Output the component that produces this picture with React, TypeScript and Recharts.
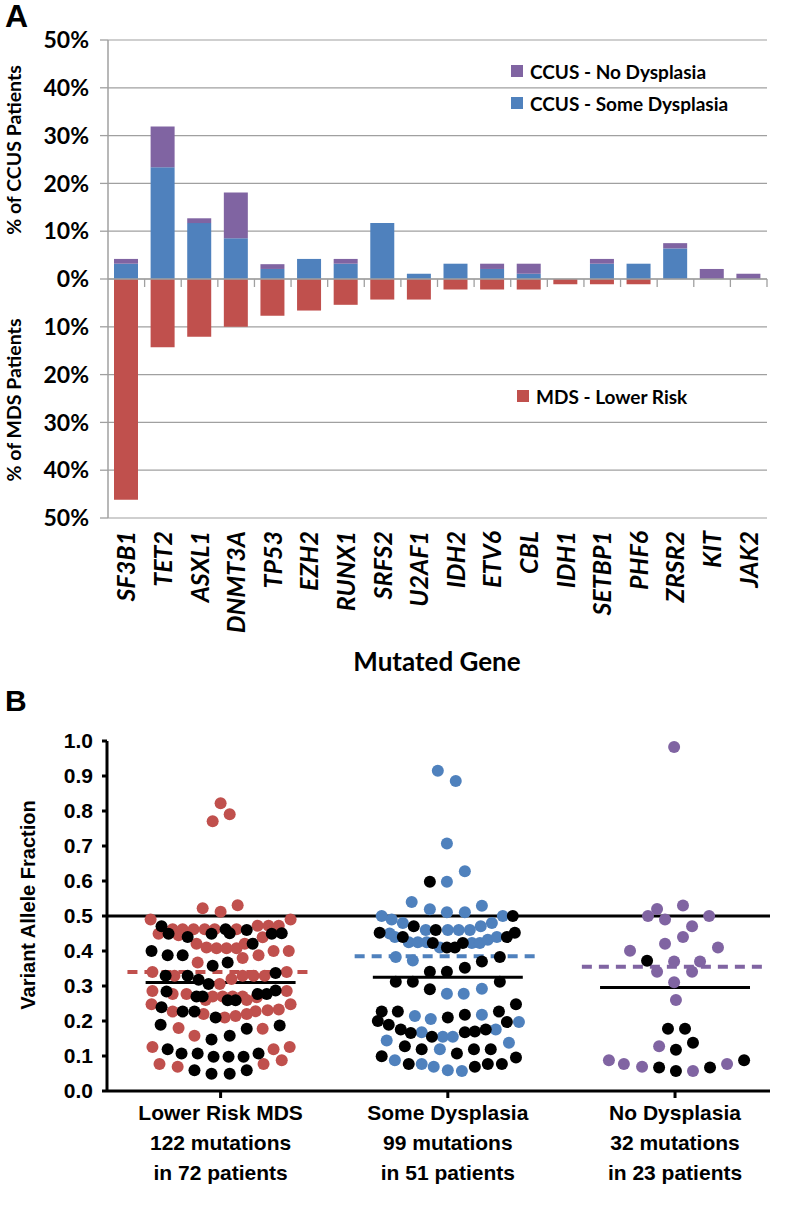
import React from 'react';
import {
  BarChart, Bar, XAxis, YAxis, CartesianGrid, ReferenceLine,
  ScatterChart, Scatter,
} from 'recharts';

// ---------- Panel A data ----------
const genes = ['SF3B1', 'TET2', 'ASXL1', 'DNMT3A', 'TP53', 'EZH2', 'RUNX1', 'SRFS2', 'U2AF1',
  'IDH2', 'ETV6', 'CBL', 'IDH1', 'SETBP1', 'PHF6', 'ZRSR2', 'KIT', 'JAK2'];
const ccusSomeDysplasia = [3.2, 23.4, 11.7, 8.5, 2.1, 4.2, 3.2, 11.7, 1.1, 3.2, 2.1, 1.1, 0, 3.2, 3.2, 6.4, 0, 0];
const ccusNoDysplasia = [1.0, 8.5, 1.0, 9.6, 1.0, 0, 1.0, 0, 0, 0, 1.1, 2.1, 0, 1.0, 0, 1.1, 2.1, 1.1];
const mdsLowerRisk = [46.2, 14.3, 12.1, 10.0, 7.7, 6.6, 5.4, 4.3, 4.3, 2.2, 2.2, 2.2, 1.1, 1.1, 1.1, 0, 0, 0];
const percentTicks = [-50, -40, -30, -20, -10, 0, 10, 20, 30, 40, 50];

// ---------- Panel B data ----------
const groupLabels = [
  ['Lower Risk MDS', '122 mutations', 'in 72 patients'],
  ['Some Dysplasia', '99 mutations', 'in 51 patients'],
  ['No Dysplasia', '32 mutations', 'in 23 patients'],
];
const vafTicks = [0, 0.1, 0.2, 0.3, 0.4, 0.5, 0.6, 0.7, 0.8, 0.9, 1.0];
const dashedMeans = [0.34, 0.385, 0.355];
const solidMeans = [0.31, 0.325, 0.296];

// [horizontal offset within group, VAF]
const mdsColored = [
  [0, 0.822], [0.04, 0.791], [-0.035, 0.771], [-0.079, 0.522], [0, 0.512], [0.075, 0.531],
  [-0.308, 0.49], [0.308, 0.49], [-0.211, 0.462], [-0.167, 0.462], [-0.119, 0.462], [-0.07, 0.462],
  [-0.026, 0.462], [0.07, 0.462], [0.163, 0.472], [0.211, 0.472], [0.256, 0.472], [-0.273, 0.449],
  [-0.185, 0.445], [0.185, 0.439], [-0.106, 0.421], [-0.062, 0.41], [-0.018, 0.408], [0.026, 0.408],
  [0.07, 0.408], [0.106, 0.421], [0.167, 0.388], [0.233, 0.4], [0.3, 0.4], [-0.101, 0.367],
  [0.097, 0.38], [-0.3, 0.34], [-0.203, 0.329], [-0.004, 0.306], [0.048, 0.32], [0.097, 0.329],
  [0.145, 0.329], [0.194, 0.329], [0.291, 0.34], [-0.3, 0.286], [-0.211, 0.277], [-0.15, 0.277],
  [-0.035, 0.27], [0.009, 0.27], [0.053, 0.27], [0.097, 0.27], [0.291, 0.286], [-0.066, 0.26],
  [0.115, 0.26], [0.159, 0.268], [-0.304, 0.248], [0.308, 0.248], [0.256, 0.233], [0.207, 0.231],
  [0.154, 0.228], [-0.211, 0.227], [-0.075, 0.22], [0.018, 0.21], [0.066, 0.214], [0.115, 0.22],
  [-0.185, 0.18], [-0.115, 0.158], [0.185, 0.178], [-0.3, 0.126], [0.233, 0.119], [0.304, 0.126],
  [-0.269, 0.077], [-0.189, 0.069], [0.189, 0.077], [0.269, 0.088],
];
const mdsBlack = [
  [-0.26, 0.471], [0.022, 0.462], [0.04, 0.451], [0.115, 0.46], [-0.229, 0.449], [-0.145, 0.44],
  [-0.04, 0.449], [0.225, 0.449], [0.269, 0.451], [0.141, 0.421], [-0.304, 0.4], [-0.233, 0.388],
  [-0.167, 0.388], [-0.035, 0.358], [0.031, 0.367], [-0.242, 0.329], [-0.145, 0.329], [-0.097, 0.318],
  [-0.053, 0.306], [0.242, 0.337], [-0.238, 0.284], [-0.106, 0.27], [-0.079, 0.27], [0.163, 0.277],
  [0.203, 0.277], [0.242, 0.287], [0.031, 0.259], [0.066, 0.259], [-0.26, 0.239], [-0.167, 0.227],
  [-0.115, 0.227], [-0.022, 0.21], [-0.264, 0.189], [-0.04, 0.147], [0.04, 0.158], [0.115, 0.178],
  [0.26, 0.187], [-0.233, 0.119], [-0.172, 0.107], [-0.101, 0.107], [-0.031, 0.098], [0.035, 0.098],
  [0.101, 0.098], [0.167, 0.107], [-0.115, 0.059], [-0.04, 0.049], [0.04, 0.049], [0.115, 0.059],
];
const someColored = [
  [-0.044, 0.915], [0.035, 0.886], [-0.004, 0.707], [0.075, 0.628], [-0.004, 0.598], [-0.159, 0.54],
  [-0.079, 0.519], [-0.004, 0.511], [0.075, 0.511], [0.15, 0.529], [-0.291, 0.5], [-0.247, 0.49],
  [-0.198, 0.48], [0.242, 0.5], [0.194, 0.48], [-0.097, 0.46], [0, 0.46], [0.048, 0.46],
  [0.097, 0.46], [0.145, 0.471], [-0.256, 0.45], [-0.233, 0.44], [-0.172, 0.425], [-0.132, 0.425],
  [-0.093, 0.425], [-0.035, 0.41], [0.106, 0.423], [0.141, 0.423], [0.176, 0.432], [0.216, 0.44],
  [-0.229, 0.383], [-0.154, 0.373], [-0.004, 0.278], [0.07, 0.278], [0.15, 0.292], [-0.145, 0.214],
  [-0.075, 0.206], [0.15, 0.218], [-0.115, 0.168], [-0.022, 0.155], [0.022, 0.155], [0.211, 0.176],
  [0.313, 0.197], [-0.269, 0.144], [0.269, 0.138], [-0.035, 0.119], [-0.233, 0.088], [-0.115, 0.077],
  [-0.062, 0.069], [0, 0.059], [0.062, 0.057],
];
const someBlack = [
  [-0.079, 0.598], [0.286, 0.5], [-0.15, 0.471], [-0.053, 0.46], [-0.3, 0.452], [-0.198, 0.44],
  [-0.066, 0.423], [-0.004, 0.41], [0.031, 0.41], [0.066, 0.423], [0.26, 0.44], [0.295, 0.452],
  [0.15, 0.37], [0.229, 0.383], [-0.079, 0.341], [-0.004, 0.341], [0.075, 0.352], [-0.229, 0.312],
  [-0.154, 0.312], [0.229, 0.312], [-0.079, 0.291], [-0.291, 0.227], [-0.22, 0.227], [0, 0.21],
  [0.075, 0.218], [0.225, 0.227], [0.3, 0.248], [-0.308, 0.2], [-0.26, 0.189], [-0.207, 0.176],
  [-0.163, 0.166], [-0.07, 0.155], [0.075, 0.168], [0.119, 0.17], [0.167, 0.176], [0.26, 0.197],
  [-0.189, 0.128], [-0.115, 0.119], [0.04, 0.107], [0.115, 0.119], [0.189, 0.119], [-0.291, 0.099],
  [-0.172, 0.077], [0.119, 0.069], [0.176, 0.077], [0.238, 0.077], [0.3, 0.096],
];
const noneColored = [
  [-0.004, 0.983], [-0.079, 0.52], [0.035, 0.53], [-0.119, 0.5], [-0.044, 0.49], [0.15, 0.5],
  [0.075, 0.471], [0.035, 0.44], [-0.044, 0.421], [-0.198, 0.401], [0.189, 0.41], [-0.004, 0.37],
  [0.11, 0.37], [-0.079, 0.341], [0.075, 0.341], [-0.004, 0.311], [0.004, 0.26], [-0.07, 0.128],
  [-0.291, 0.088], [-0.225, 0.077], [-0.145, 0.069], [0.079, 0.057], [0.229, 0.077],
];
const noneBlack = [
  [-0.123, 0.372], [-0.031, 0.178], [0.044, 0.178], [0.079, 0.138], [0.004, 0.118], [-0.07, 0.067],
  [0.004, 0.057], [0.154, 0.067], [0.304, 0.088],
];

const RED = '#c0504d';
const BLUE = '#4f81bd';
const PURPLE = '#8064a2';
const GRID = '#a0a0a0';
const CAL = 'Lato, "Open Sans", sans-serif';
const ARIAL = '"Liberation Sans", Arial, sans-serif';

const barData = genes.map((g, i) => ({
  gene: g,
  some: ccusSomeDysplasia[i],
  none: ccusNoDysplasia[i],
  mds: -mdsLowerRisk[i],
}));

const toPoints = (arr: number[][], group: number) => arr.map(([dx, v]) => ({ x: group + dx, y: v }));

const GeneTick = (props: any) => {
  const { x, y, payload } = props;
  return (
    <g transform={`translate(${x},${y}) rotate(-90)`}>
      <text x={0} y={0} dy="0.36em" textAnchor="end" fontFamily={CAL} fontWeight={700}
        fontStyle="italic" fontSize={25} fill="#000">{payload.value}</text>
    </g>
  );
};

const GroupTick = (props: any) => {
  const { x, y, payload } = props;
  const lines = groupLabels[Math.round(payload.value) - 1] || [];
  return (
    <g>
      {lines.map((l, i) => (
        <text key={i} x={x} y={y + 20 + i * 30} textAnchor="middle" fontFamily={ARIAL}
          fontWeight={700} fontSize={21} fill="#000">{l}</text>
      ))}
    </g>
  );
};

const ZeroAxis = (props: any) => {
  const { x1, y1, x2, y2 } = props;
  const n = genes.length;
  const step = (x2 - x1) / n;
  const ticks = [];
  for (let i = 1; i <= n; i++) {
    const tx = x1 + step * i;
    ticks.push(<line key={i} x1={tx} x2={tx} y1={y1} y2={y1 + 8} stroke={GRID} strokeWidth={1.3} />);
  }
  return (
    <g>
      <line x1={x1} y1={y1} x2={x2} y2={y2} stroke={GRID} strokeWidth={1.5} />
      {ticks}
    </g>
  );
};

const dot = (color: string) => (p: any) => <circle cx={p.cx} cy={p.cy} r={6} fill={color} />;

const abs: React.CSSProperties = { position: 'absolute', whiteSpace: 'nowrap', color: '#000' };

const LegendItem = ({ color, label, left, top }: any) => (
  <div style={{ ...abs, left, top, display: 'flex', alignItems: 'center', height: 22,
    fontFamily: CAL, fontWeight: 700, fontSize: 19 }}>
    <div style={{ width: 12, height: 12, background: color, marginRight: 7 }} />
    <span>{label}</span>
  </div>
);

export default function App() {
  return (
    <div style={{ position: 'absolute', left: 0, top: 0, width: 791, height: 1229, background: '#fff' }}>
      {/* Panel A */}
      <div style={{ position: 'absolute', left: 0, top: 0 }}>
        <BarChart width={791} height={640} data={barData} stackOffset="sign"
          margin={{ top: 40, right: 24, bottom: 0, left: 0 }} barSize={24}>
          <CartesianGrid vertical={false} stroke={GRID} strokeWidth={1.2} />
          <XAxis dataKey="gene" interval={0} height={122} axisLine={false} tickLine={false}
            tickSize={0} tickMargin={13} tick={<GeneTick />} />
          <YAxis type="number" domain={[-50, 50]} ticks={percentTicks} width={108}
            tickFormatter={(v: number) => `${Math.abs(v)}%`} tickSize={8} tickMargin={11}
            axisLine={{ stroke: GRID, strokeWidth: 1.5 }} tickLine={{ stroke: GRID, strokeWidth: 1.3 }}
            tick={{ fill: '#000', fontFamily: CAL, fontWeight: 700, fontSize: 23 }} />
          <Bar dataKey="some" stackId="s" fill={BLUE} isAnimationActive={false} />
          <Bar dataKey="none" stackId="s" fill={PURPLE} isAnimationActive={false} />
          <Bar dataKey="mds" stackId="s" fill={RED} isAnimationActive={false} />
          <ReferenceLine y={0} stroke={GRID} shape={<ZeroAxis />} />
        </BarChart>
      </div>
      <div style={{ ...abs, left: 5, top: 0, lineHeight: 1, fontFamily: ARIAL, fontWeight: 700, fontSize: 32 }}>A</div>
      <div style={{ ...abs, left: 13, top: 150, transform: 'translate(-50%,-50%) rotate(-90deg)',
        fontFamily: CAL, fontWeight: 700, fontSize: 19.5 }}>% of CCUS Patients</div>
      <div style={{ ...abs, left: 13, top: 400, transform: 'translate(-50%,-50%) rotate(-90deg)',
        fontFamily: CAL, fontWeight: 700, fontSize: 19.5 }}>% of MDS Patients</div>
      <LegendItem color={PURPLE} label="CCUS - No Dysplasia" left={511} top={60} />
      <LegendItem color={BLUE} label="CCUS - Some Dysplasia" left={511} top={92} />
      <LegendItem color={RED} label="MDS - Lower Risk" left={517} top={385} />
      <div style={{ ...abs, left: 437, top: 661, transform: 'translate(-50%,-50%)',
        fontFamily: CAL, fontWeight: 700, fontSize: 26 }}>Mutated Gene</div>

      {/* Panel B */}
      <div style={{ position: 'absolute', left: 0, top: 700 }}>
        <ScatterChart width={791} height={529} margin={{ top: 41, right: 21, bottom: 0, left: 0 }}>
          <XAxis type="number" dataKey="x" domain={[0.5, 3.418]} ticks={[1, 2, 3]} allowDataOverflow
            height={138} tickSize={7} tickMargin={2} axisLine={{ stroke: '#000', strokeWidth: 3 }}
            tickLine={{ stroke: '#000', strokeWidth: 3 }} tick={<GroupTick />} />
          <YAxis type="number" dataKey="y" domain={[0, 1]} ticks={vafTicks} width={107}
            tickFormatter={(v: number) => v.toFixed(1)} tickSize={5} tickMargin={9}
            axisLine={{ stroke: '#000', strokeWidth: 3 }} tickLine={{ stroke: '#000', strokeWidth: 3 }}
            tick={{ fill: '#000', fontFamily: ARIAL, fontWeight: 700, fontSize: 21 }} />
          <Scatter data={toPoints(mdsColored, 1)} shape={dot(RED)} isAnimationActive={false} />
          <Scatter data={toPoints(someColored, 2)} shape={dot(BLUE)} isAnimationActive={false} />
          <Scatter data={toPoints(noneColored, 3)} shape={dot(PURPLE)} isAnimationActive={false} />
          <Scatter data={toPoints(mdsBlack, 1)} shape={dot('#000')} isAnimationActive={false} />
          <Scatter data={toPoints(someBlack, 2)} shape={dot('#000')} isAnimationActive={false} />
          <Scatter data={toPoints(noneBlack, 3)} shape={dot('#000')} isAnimationActive={false} />
          <ReferenceLine y={0.5} stroke="#000" strokeWidth={3} />
          {dashedMeans.map((m, i) => (
            <ReferenceLine key={`d${i}`} segment={[{ x: i + 1 - 0.41, y: m }, { x: i + 1 + 0.41, y: m }]}
              stroke={[RED, BLUE, PURPLE][i]} strokeWidth={4} strokeDasharray="10 7" ifOverflow="visible" />
          ))}
          {solidMeans.map((m, i) => (
            <ReferenceLine key={`s${i}`} segment={[{ x: i + 1 - 0.33, y: m }, { x: i + 1 + 0.33, y: m }]}
              stroke="#000" strokeWidth={3} ifOverflow="visible" />
          ))}
        </ScatterChart>
      </div>
      <div style={{ ...abs, left: 5, top: 686, lineHeight: 1, fontFamily: ARIAL, fontWeight: 700, fontSize: 30 }}>B</div>
      <div style={{ ...abs, left: 28, top: 905, transform: 'translate(-50%,-50%) rotate(-90deg)',
        fontFamily: ARIAL, fontWeight: 700, fontSize: 20 }}>Variant Allele Fraction</div>
    </div>
  );
}
